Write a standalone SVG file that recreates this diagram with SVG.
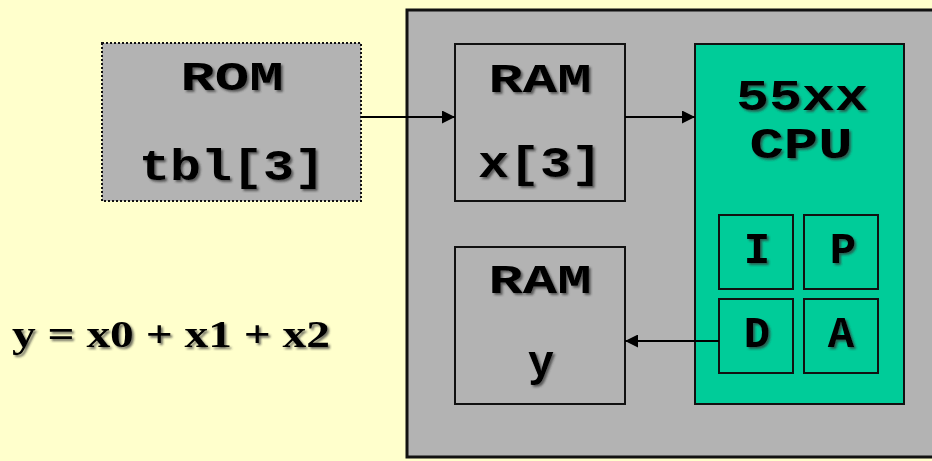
<svg xmlns="http://www.w3.org/2000/svg" width="932" height="461" viewBox="0 0 932 461">
<defs>
<style>
.box{fill:#B3B3B3;stroke:#111;stroke-width:2}
.cpu{fill:#00CC99;stroke:#111;stroke-width:2}
.t{font-family:"Liberation Mono","Courier New",monospace;font-weight:bold;font-size:44px;fill:#000;text-anchor:middle;filter:url(#sh)}
.s{font-size:40px}
.eq{font-family:"Liberation Serif","Times New Roman",serif;font-weight:bold;font-size:38px;fill:#000;filter:url(#sh)}
</style>
<filter id="sh" x="-10%" y="-20%" width="130%" height="150%">
<feDropShadow dx="2" dy="2" stdDeviation="1" flood-color="#333" flood-opacity="0.7"/>
</filter>
<marker id="ah2" viewBox="0 0 10 10" refX="10" refY="5" markerWidth="15" markerHeight="13" markerUnits="userSpaceOnUse" orient="auto">
<path d="M0,0 L10,5 L0,10 z" fill="#000"/>
</marker>
</defs>
<rect x="0" y="0" width="932" height="461" fill="#FFFFCC"/>
<g id="board">
<rect x="407" y="10" width="530" height="447" fill="#B3B3B3" stroke="#111" stroke-width="3"/>
</g>
<g id="rom">
<rect x="102" y="43" width="259" height="158" fill="#B3B3B3" stroke="#111" stroke-width="2" stroke-dasharray="2 2"/>
<text class="t s" x="232" y="90" textLength="103" lengthAdjust="spacingAndGlyphs">ROM</text>
<text class="t" x="232" y="180" textLength="186" lengthAdjust="spacingAndGlyphs">tbl[3]</text>
</g>
<g id="ram-x">
<rect class="box" x="455" y="44" width="170" height="157"/>
<text class="t s" x="540" y="92" textLength="103" lengthAdjust="spacingAndGlyphs">RAM</text>
<text class="t" x="540" y="177" textLength="124" lengthAdjust="spacingAndGlyphs">x[3]</text>
</g>
<g id="ram-y">
<rect class="box" x="455" y="247" width="170" height="157"/>
<text class="t s" x="540" y="293" textLength="103" lengthAdjust="spacingAndGlyphs">RAM</text>
<text class="t" x="541" y="376">y</text>
</g>
<g id="cpu">
<rect class="cpu" x="695" y="44" width="209" height="360"/>
<text class="t" x="802" y="110" textLength="132" lengthAdjust="spacingAndGlyphs">55xx</text>
<text class="t" x="801" y="158" textLength="103" lengthAdjust="spacingAndGlyphs">CPU</text>
</g>
<g id="reg-i">
<rect class="cpu" x="719" y="215" width="74" height="74"/>
<text class="t" x="757" y="263">I</text>
</g>
<g id="reg-p">
<rect class="cpu" x="804" y="215" width="74" height="74"/>
<text class="t" x="843" y="263">P</text>
</g>
<g id="reg-d">
<rect class="cpu" x="719" y="299" width="74" height="74"/>
<text class="t" x="757" y="347">D</text>
</g>
<g id="reg-a">
<rect class="cpu" x="804" y="299" width="74" height="74"/>
<text class="t" x="841" y="347">A</text>
</g>
<g id="equation">
<text class="eq" x="12" y="347" textLength="318" lengthAdjust="spacingAndGlyphs">y = x0 + x1 + x2</text>
</g>
<g id="connectors">
<line x1="361" y1="117" x2="455" y2="117" stroke="#000" stroke-width="2" marker-end="url(#ah2)"/>
<line x1="625" y1="117" x2="695" y2="117" stroke="#000" stroke-width="2" marker-end="url(#ah2)"/>
<line x1="719" y1="341" x2="625" y2="341" stroke="#000" stroke-width="2" marker-end="url(#ah2)"/>
</g>
</svg>
